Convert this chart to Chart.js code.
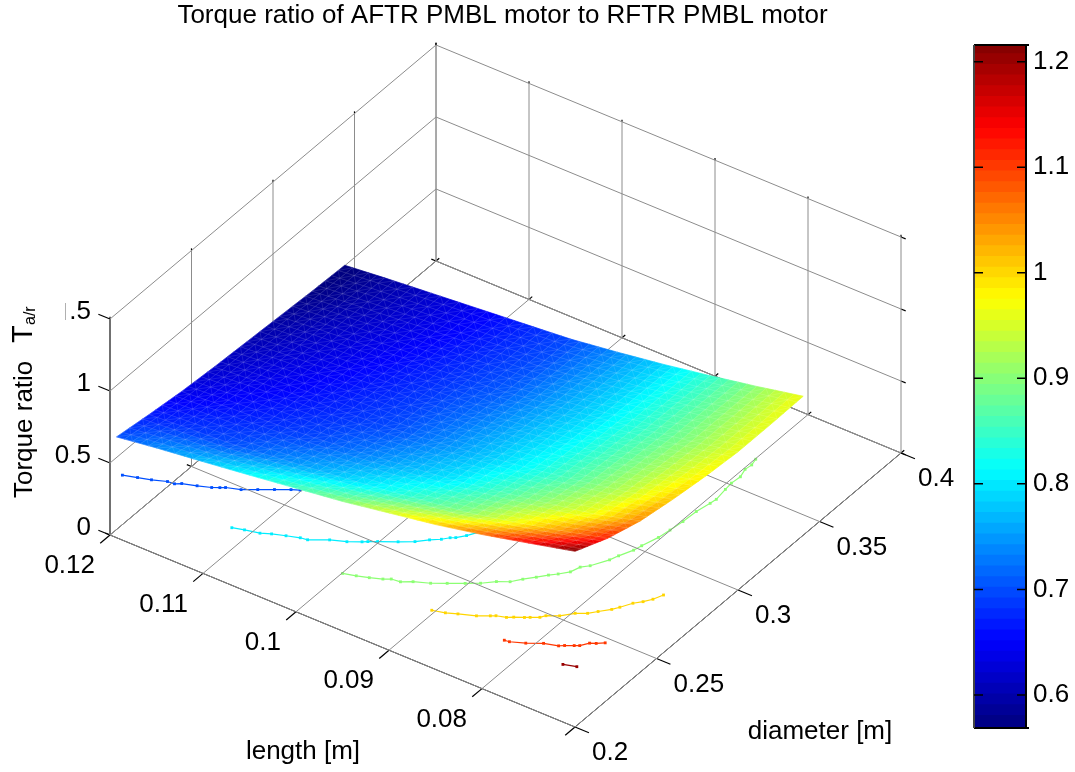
<!DOCTYPE html>
<html>
<head>
<meta charset="utf-8">
<title>Torque ratio</title>
<script src="https://cdn.jsdelivr.net/npm/chart.js@4/dist/chart.umd.min.js"></script>
<style>
  html, body { margin: 0; padding: 0; background: #fff; }
  #wrap { position: relative; width: 1075px; height: 772px; overflow: hidden; }
  #surfaceBox { position: absolute; left: 0; top: 0; width: 1005px; height: 772px; }
  #barBox { position: absolute; left: 960px; top: 0; width: 115px; height: 772px; }
</style>
</head>
<body>
<div id="wrap">
  <div id="surfaceBox"><canvas id="surfaceChart"></canvas></div>
  <div id="barBox"><canvas id="barChart"></canvas></div>
</div>
<script>
// axis ticks
const lengthTicks = [0.12, 0.11, 0.1, 0.09, 0.08, 0.07];
const lengthTickLabels = ['0.12', '0.11', '0.1', '0.09', '0.08', ''];
const diameterTicks = [0.2, 0.25, 0.3, 0.35, 0.4];
const diameterTickLabels = ['0.2', '0.25', '0.3', '0.35', '0.4'];
const torqueTicks = [0, 0.5, 1, 1.5];
const torqueTickLabels = ['0', '0.5', '1', '.5'];
const colorTicks = [0.6, 0.7, 0.8, 0.9, 1, 1.1, 1.2];

// surface samples, one row per length
const surfaceDiameters = [0.2, 0.22, 0.24, 0.26, 0.28, 0.3, 0.32, 0.34];
const surfaceLengths = [0.1193, 0.115, 0.11, 0.105, 0.1, 0.095, 0.09, 0.085, 0.08, 0.075, 0.07];
const torqueLen1193 = [0.70, 0.665, 0.635, 0.615, 0.60, 0.585, 0.57, 0.56];
const torqueLen1150 = [0.738, 0.682, 0.655, 0.636, 0.622, 0.609, 0.596, 0.587];
const torqueLen1100 = [0.776, 0.70, 0.674, 0.657, 0.644, 0.633, 0.622, 0.614];
const torqueLen1050 = [0.816, 0.736, 0.694, 0.677, 0.667, 0.657, 0.648, 0.641];
const torqueLen1000 = [0.858, 0.771, 0.726, 0.698, 0.689, 0.681, 0.674, 0.668];
const torqueLen0950 = [0.90, 0.809, 0.763, 0.735, 0.721, 0.708, 0.70, 0.695];
const torqueLen0900 = [0.953, 0.855, 0.80, 0.775, 0.763, 0.752, 0.745, 0.738];
const torqueLen0850 = [1.006, 0.90, 0.854, 0.819, 0.805, 0.795, 0.79, 0.786];
const torqueLen0800 = [1.07, 0.967, 0.909, 0.873, 0.858, 0.847, 0.844, 0.841];
const torqueLen0750 = [1.144, 1.04, 0.966, 0.932, 0.914, 0.90, 0.90, 0.90];
const torqueLen0700 = [1.22, 1.12, 1.05, 1.01, 0.98, 0.96, 0.96, 0.965];
const torqueRows = [torqueLen1193, torqueLen1150, torqueLen1100, torqueLen1050, torqueLen1000,
  torqueLen0950, torqueLen0900, torqueLen0850, torqueLen0800, torqueLen0750, torqueLen0700];

// contour lines, drawn on a plane under the surface
const contourHeight = 0.4;
const contour070Len = [0.1193, 0.118, 0.1168, 0.1155, 0.1148, 0.1143, 0.113, 0.1118, 0.1112, 0.1108, 0.1095, 0.1083, 0.1071, 0.1059, 0.1052];
const contour070Dia = [0.2036, 0.2055, 0.2072, 0.2096, 0.2099, 0.2115, 0.2135, 0.2156, 0.2172, 0.2184, 0.2205, 0.2239, 0.2273, 0.2306, 0.2322];
const contour080Len = [0.1069, 0.1058, 0.1044, 0.1035, 0.1023, 0.1011, 0.1004, 0.0988, 0.0974, 0.0963, 0.0959, 0.0952, 0.0937, 0.0925, 0.0916, 0.0908, 0.0903, 0.0899, 0.0893, 0.087, 0.0855];
const contour080Dia = [0.2, 0.2015, 0.203, 0.205, 0.207, 0.2089, 0.2094, 0.2138, 0.2164, 0.2194, 0.2207, 0.2227, 0.2267, 0.2302, 0.234, 0.2367, 0.2392, 0.2404, 0.2436, 0.26, 0.29];
const contour090Len = [0.095, 0.0938, 0.0927, 0.0916, 0.091, 0.0901, 0.0892, 0.0878, 0.0866, 0.0853, 0.0842, 0.0832, 0.0822, 0.0815, 0.0807, 0.08, 0.0794, 0.0787, 0.0784, 0.0778, 0.0769, 0.0766, 0.076, 0.0758, 0.0753, 0.0751, 0.0749, 0.0748, 0.0745, 0.0744, 0.0746, 0.0747, 0.0746, 0.0749, 0.0748, 0.075];
const contour090Dia = [0.2, 0.2016, 0.2033, 0.2054, 0.2071, 0.2076, 0.2102, 0.213, 0.2163, 0.2199, 0.2231, 0.2271, 0.2298, 0.2336, 0.2373, 0.2408, 0.2433, 0.2468, 0.2511, 0.2538, 0.2606, 0.2644, 0.2702, 0.274, 0.2815, 0.2874, 0.2942, 0.3018, 0.3086, 0.3118, 0.3185, 0.3228, 0.3277, 0.3323, 0.3358, 0.3394];
const contour100Len = [0.0854, 0.0842, 0.0832, 0.0817, 0.0807, 0.0803, 0.0794, 0.0789, 0.0781, 0.0777, 0.077, 0.0767, 0.0757, 0.0748, 0.0739, 0.0733, 0.0725, 0.0721, 0.0715, 0.0709, 0.0704, 0.07];
const contour100Dia = [0.2, 0.2015, 0.2035, 0.2063, 0.2091, 0.2103, 0.2116, 0.2132, 0.2152, 0.2164, 0.2184, 0.2204, 0.2231, 0.2275, 0.23, 0.233, 0.2368, 0.2395, 0.2441, 0.2469, 0.2501, 0.2543];
const contour110Len = [0.0776, 0.0771, 0.0758, 0.0745, 0.0732, 0.0728, 0.0721, 0.0717, 0.0712, 0.0707, 0.0701];
const contour110Dia = [0.2, 0.2003, 0.2029, 0.2064, 0.2082, 0.2096, 0.2115, 0.2126, 0.2158, 0.217, 0.2191];
const contour120Len = [0.0713, 0.0701];
const contour120Dia = [0.2, 0.2017];

const colorMin = 0.5687;
const colorMax = 1.2158;
const colorBands = 64;

const FONT = '"Liberation Sans", Arial, sans-serif';
const TITLE_H = 29;

// fixed view of the box: floor corner at length 0.12 / diameter 0.2, then one vector per axis
function project(len, dia, z) {
  const l = (0.12 - len) / 0.05;
  const d = (dia - 0.2) / 0.2;
  return {
    x: 110 + 465 * l + 326 * d,
    y: 535 + 192 * l - 274 * d - 144 * z
  };
}

function jet(v) {
  const t = Math.min(1, Math.max(0, (v - colorMin) / (colorMax - colorMin)));
  const ramp = c => Math.round(255 * Math.min(1, Math.max(0, 1.5 - Math.abs(4 * t - c))));
  return `rgb(${ramp(3)},${ramp(2)},${ramp(1)})`;
}

function lineSet(points, color, width) {
  return {
    data: points,
    showLine: true,
    borderColor: color,
    borderWidth: width,
    pointRadius: 0,
    tension: 0
  };
}

function contourSet(level, lens, dias) {
  return {
    data: lens.map((len, i) => project(len, dias[i], contourHeight)),
    showLine: true,
    borderColor: jet(level),
    backgroundColor: jet(level),
    borderWidth: 1.2,
    pointStyle: 'rect',
    pointRadius: 2,
    pointBorderWidth: 0,
    tension: 0
  };
}

const lenFirst = lengthTicks[0];
const lenLast = lengthTicks[lengthTicks.length - 1];
const diaFirst = diameterTicks[0];
const diaLast = diameterTicks[diameterTicks.length - 1];
const zTop = torqueTicks[torqueTicks.length - 1];
const GRID = '#8c8c8c';

const datasets = [];

// walls and floor grid
diameterTicks.forEach(dia => {
  datasets.push(lineSet([project(lenFirst, dia, 0), project(lenLast, dia, 0)], GRID, 1));
  datasets.push(lineSet([project(lenFirst, dia, 0), project(lenFirst, dia, zTop)], GRID, 1));
});
lengthTicks.forEach(len => {
  datasets.push(lineSet([project(len, diaFirst, 0), project(len, diaLast, 0)], GRID, 1));
  datasets.push(lineSet([project(len, diaLast, 0), project(len, diaLast, zTop)], GRID, 1));
});
torqueTicks.forEach(z => {
  datasets.push(lineSet([project(lenFirst, diaFirst, z), project(lenFirst, diaLast, z)], GRID, 1));
  datasets.push(lineSet([project(lenFirst, diaLast, z), project(lenLast, diaLast, z)], GRID, 1));
});

// box edges
datasets.push(lineSet([project(lenFirst, diaFirst, 0), project(lenLast, diaFirst, 0)], '#000', 1));
datasets.push(lineSet([project(lenLast, diaFirst, 0), project(lenLast, diaLast, 0)], '#000', 1));
datasets.push(lineSet([project(lenFirst, diaFirst, 0), project(lenFirst, diaLast, 0)], '#444', 1));
datasets.push(lineSet([project(lenFirst, diaLast, 0), project(lenLast, diaLast, 0)], '#444', 1));
datasets.push(lineSet([project(lenFirst, diaFirst, 0), project(lenFirst, diaFirst, zTop)], '#555', 2));

// tick marks
lengthTicks.forEach(len => {
  datasets.push(lineSet([project(len, diaFirst, 0), project(len, diaFirst - 0.006, 0)], '#000', 1.2));
  datasets.push(lineSet([project(len, diaLast, 0), project(len, diaLast + 0.002, 0)], '#000', 1.2));
  datasets.push(lineSet([project(len, diaLast, zTop), project(len, diaLast, zTop + 0.015)], '#000', 1.2));
});
diameterTicks.forEach(dia => {
  datasets.push(lineSet([project(lenLast, dia, 0), project(lenLast - 0.0015, dia, 0)], '#000', 1.2));
  datasets.push(lineSet([project(lenFirst, dia, 0), project(lenFirst + 0.0005, dia, 0)], '#000', 1.2));
  datasets.push(lineSet([project(lenFirst, dia, zTop), project(lenFirst, dia, zTop + 0.015)], '#000', 1.2));
});
torqueTicks.forEach(z => {
  datasets.push(lineSet([project(lenFirst, diaFirst, z), project(lenFirst + 0.00125, diaFirst, z)], '#000', 1.2));
  datasets.push(lineSet([project(lenLast, diaLast, z), project(lenLast - 0.0005, diaLast, z)], '#000', 1.2));
});

// contours
datasets.push(contourSet(0.7, contour070Len, contour070Dia));
datasets.push(contourSet(0.8, contour080Len, contour080Dia));
datasets.push(contourSet(0.9, contour090Len, contour090Dia));
datasets.push(contourSet(1.0, contour100Len, contour100Dia));
datasets.push(contourSet(1.1, contour110Len, contour110Dia));
datasets.push(contourSet(1.2, contour120Len, contour120Dia));

// surface nodes, painted by the plugin below
const surfaceNodes = [];
torqueRows.forEach((row, i) => {
  row.forEach((z, j) => {
    surfaceNodes.push({ ...project(surfaceLengths[i], surfaceDiameters[j], z), z });
  });
});
datasets.push({ label: 'surface', data: surfaceNodes, pointRadius: 0, showLine: false });

const surfacePlugin = {
  id: 'surface',
  afterDatasetsDraw(chart) {
    const ctx = chart.ctx;
    const sx = chart.scales.x;
    const sy = chart.scales.y;
    const nodes = chart.data.datasets[chart.data.datasets.length - 1].data;
    const cols = surfaceDiameters.length;
    const rows = surfaceLengths.length;
    const sub = 5; // shaded facets per sampled cell
    const at = (i, j) => nodes[i * cols + j];
    const blend = (i, j, u, v, key) =>
      (1 - u) * (1 - v) * at(i, j)[key] + (1 - u) * v * at(i, j + 1)[key] +
      u * (1 - v) * at(i + 1, j)[key] + u * v * at(i + 1, j + 1)[key];
    const px = (i, j, u, v) => ({
      x: sx.getPixelForValue(blend(i, j, u, v, 'x')),
      y: sy.getPixelForValue(blend(i, j, u, v, 'y'))
    });
    ctx.save();
    ctx.lineWidth = 0.7;
    for (let i = 0; i < rows - 1; i++) {
      for (let j = 0; j < cols - 1; j++) {
        for (let a = 0; a < sub; a++) {
          for (let b = 0; b < sub; b++) {
            const u0 = a / sub, u1 = (a + 1) / sub, v0 = b / sub, v1 = (b + 1) / sub;
            const p00 = px(i, j, u0, v0), p01 = px(i, j, u0, v1), p11 = px(i, j, u1, v1), p10 = px(i, j, u1, v0);
            const c = jet(blend(i, j, (u0 + u1) / 2, (v0 + v1) / 2, 'z'));
            ctx.fillStyle = c;
            ctx.strokeStyle = c;
            ctx.beginPath();
            ctx.moveTo(p00.x, p00.y);
            ctx.lineTo(p01.x, p01.y);
            ctx.lineTo(p11.x, p11.y);
            ctx.lineTo(p10.x, p10.y);
            ctx.closePath();
            ctx.fill();
            ctx.stroke();
          }
        }
      }
    }
    // faint facet mesh
    ctx.strokeStyle = 'rgba(255,255,255,0.14)';
    ctx.lineWidth = 0.8;
    ctx.beginPath();
    for (let i = 0; i < rows - 1; i++) {
      for (let j = 0; j < cols - 1; j++) {
        for (let a = 0; a < sub; a++) {
          for (let b = 0; b < sub; b++) {
            const u0 = a / sub, u1 = (a + 1) / sub, v0 = b / sub, v1 = (b + 1) / sub;
            const p00 = px(i, j, u0, v0), p01 = px(i, j, u0, v1), p11 = px(i, j, u1, v1), p10 = px(i, j, u1, v0);
            ctx.moveTo(p00.x, p00.y);
            ctx.lineTo(p01.x, p01.y);
            ctx.moveTo(p00.x, p00.y);
            ctx.lineTo(p10.x, p10.y);
            if ((a + b) % 2 === 0) {
              ctx.moveTo(p00.x, p00.y);
              ctx.lineTo(p11.x, p11.y);
            } else {
              ctx.moveTo(p01.x, p01.y);
              ctx.lineTo(p10.x, p10.y);
            }
          }
        }
      }
    }
    ctx.stroke();
    ctx.restore();
  }
};

const axisTextPlugin = {
  id: 'axisText',
  afterDraw(chart) {
    const ctx = chart.ctx;
    const sx = chart.scales.x;
    const sy = chart.scales.y;
    const put = (text, x, y, align) => {
      ctx.textAlign = align;
      ctx.fillText(text, sx.getPixelForValue(x), sy.getPixelForValue(y));
    };
    ctx.save();
    ctx.fillStyle = '#000';
    ctx.textBaseline = 'middle';
    ctx.font = `26px ${FONT}`;
    lengthTicks.forEach((len, i) => {
      const p = project(len, diaFirst, 0);
      put(lengthTickLabels[i], p.x - 15, p.y + 31, 'right');
    });
    diameterTicks.forEach((dia, i) => {
      const p = project(lenLast, dia, 0);
      put(diameterTickLabels[i], p.x + 17, p.y + 26, 'left');
    });
    torqueTicks.forEach((z, i) => {
      const p = project(lenFirst, diaFirst, z);
      put(torqueTickLabels[i], p.x - 19, p.y - 7, 'right');
    });
    put('length [m]', 303, 752, 'center');
    put('diameter [m]', 820, 732, 'center');

    // rotated z label with its subscript
    ctx.save();
    ctx.translate(sx.getPixelForValue(32), sy.getPixelForValue(498));
    ctx.rotate(-Math.PI / 2);
    ctx.textAlign = 'left';
    ctx.textBaseline = 'alphabetic';
    ctx.font = `26px ${FONT}`;
    ctx.fillText('Torque ratio', 0, 0);
    ctx.font = `29px ${FONT}`;
    ctx.fillText('T', 155, 0);
    ctx.font = `16px ${FONT}`;
    ctx.fillText('a/r', 173, 3);
    ctx.restore();

    // sliver left by the clipped label
    ctx.strokeStyle = '#b0b0b0';
    ctx.lineWidth = 1;
    ctx.beginPath();
    ctx.moveTo(sx.getPixelForValue(65.5), sy.getPixelForValue(303));
    ctx.lineTo(sx.getPixelForValue(65.5), sy.getPixelForValue(320));
    ctx.stroke();
    ctx.restore();
  }
};

new Chart(document.getElementById('surfaceChart'), {
  type: 'scatter',
  data: { datasets },
  plugins: [surfacePlugin, axisTextPlugin],
  options: {
    responsive: true,
    maintainAspectRatio: false,
    animation: false,
    layout: { padding: 0, autoPadding: false },
    plugins: {
      legend: { display: false },
      tooltip: { enabled: false },
      title: {
        display: true,
        text: 'Torque ratio of AFTR PMBL motor to RFTR PMBL motor',
        color: '#000',
        font: { family: FONT, size: 26, weight: 'normal', lineHeight: 1 },
        padding: { top: 3, bottom: 0 }
      }
    },
    scales: {
      x: { type: 'linear', display: false, min: 0, max: 1005 },
      y: { type: 'linear', display: false, reverse: true, min: TITLE_H, max: 772 }
    }
  }
});

// colour bar, one floating bar per colormap band
const bandEdges = [];
for (let i = 0; i <= colorBands; i++) {
  bandEdges.push(colorMin + (colorMax - colorMin) * i / colorBands);
}
const bandSets = [];
for (let i = 0; i < colorBands; i++) {
  bandSets.push({
    data: [[bandEdges[i], Math.min(colorMax, bandEdges[i + 1] + 0.002)]],
    backgroundColor: jet((bandEdges[i] + bandEdges[i + 1]) / 2),
    borderWidth: 0,
    barPercentage: 1,
    categoryPercentage: 1
  });
}

const barFramePlugin = {
  id: 'barFrame',
  afterDraw(chart) {
    const ctx = chart.ctx;
    const a = chart.chartArea;
    const sy = chart.scales.y;
    ctx.save();
    ctx.strokeStyle = '#000';
    ctx.lineWidth = 2;
    ctx.beginPath();
    ctx.moveTo(a.left, a.top);
    ctx.lineTo(a.right + 3, a.top);
    ctx.moveTo(a.right, a.top);
    ctx.lineTo(a.right, a.bottom);
    ctx.moveTo(a.right + 3, a.bottom);
    ctx.lineTo(a.left, a.bottom);
    ctx.stroke();
    ctx.strokeStyle = '#444';
    ctx.beginPath();
    ctx.moveTo(a.left, a.top);
    ctx.lineTo(a.left, a.bottom);
    ctx.stroke();
    ctx.strokeStyle = '#000';
    ctx.lineWidth = 1.5;
    ctx.beginPath();
    colorTicks.forEach(v => {
      const y = sy.getPixelForValue(v);
      ctx.moveTo(a.left, y);
      ctx.lineTo(a.left + 9, y);
      ctx.moveTo(a.right, y);
      ctx.lineTo(a.right - 9, y);
    });
    ctx.stroke();
    ctx.restore();
  }
};

new Chart(document.getElementById('barChart'), {
  type: 'bar',
  data: { labels: ['band'], datasets: bandSets },
  plugins: [barFramePlugin],
  options: {
    responsive: true,
    maintainAspectRatio: false,
    animation: false,
    layout: { padding: { left: 14, top: 45, bottom: 44, right: 0 }, autoPadding: false },
    plugins: { legend: { display: false }, tooltip: { enabled: false } },
    scales: {
      x: { display: false, stacked: true },
      y: {
        position: 'right',
        min: colorMin,
        max: colorMax,
        afterFit: s => { s.width = 49; },
        afterBuildTicks: s => { s.ticks = colorTicks.map(value => ({ value })); },
        grid: { display: false, drawTicks: false },
        border: { display: false },
        ticks: {
          color: '#000',
          padding: 7,
          font: { family: FONT, size: 26 },
          callback: v => String(v)
        }
      }
    }
  }
});
</script>
</body>
</html>
